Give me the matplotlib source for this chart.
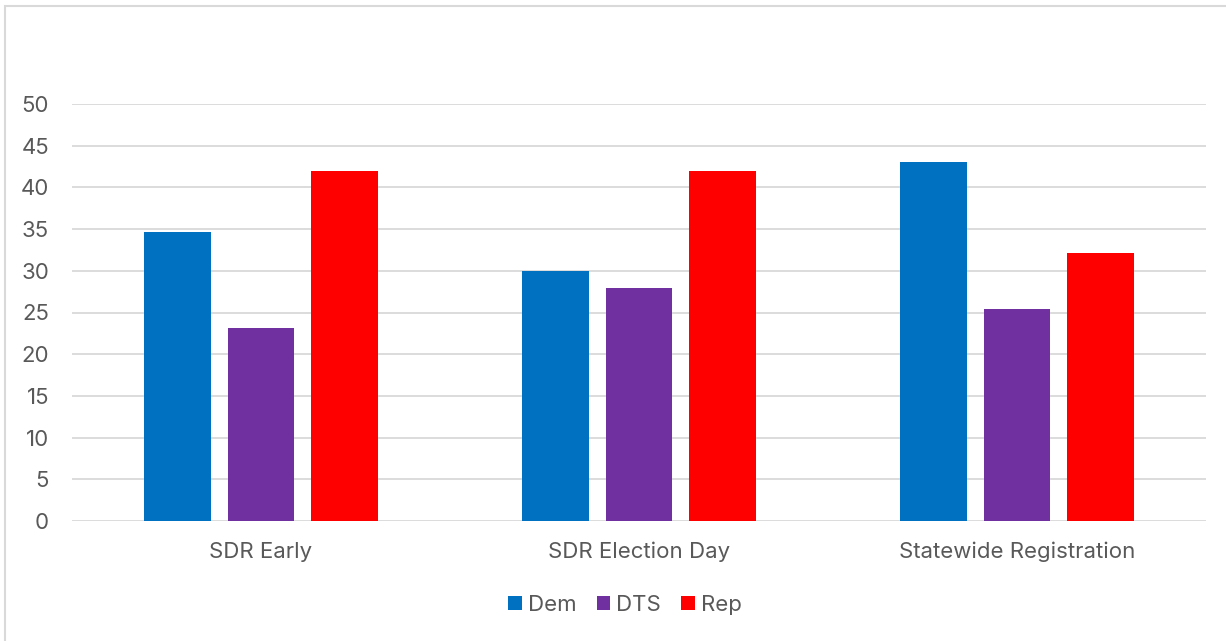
import matplotlib
matplotlib.use("Agg")
import matplotlib.pyplot as plt
from matplotlib.patches import Rectangle
import numpy as np

categories = ["SDR Early", "SDR Election Day", "Statewide Registration"]
series_names = ["Dem", "DTS", "Rep"]
dem = [34.7, 30.0, 43.0]
dts = [23.2, 27.9, 25.4]
rep = [42.0, 42.0, 32.1]
y_ticks = [0, 5, 10, 15, 20, 25, 30, 35, 40, 45, 50]

colors = ["#0070C0", "#7030A0", "#FF0000"]
text_color = "#595959"
fs = 16

plt.rcParams["font.family"] = ["Inter", "DejaVu Sans"]

fig = plt.figure(figsize=(12.26, 6.41), dpi=100)
fig.patch.set_facecolor("white")

# chart-area frame
fig.add_artist(Rectangle((5 / 1226, -0.01), 1.02, 1 - 6 / 641 + 0.01,
                         transform=fig.transFigure, fill=False,
                         edgecolor="#d9d9d9", linewidth=1.5))

ax = fig.add_axes([72 / 1226, 1 - 521 / 641, (1206 - 72) / 1226, (521 - 104) / 641])

x = np.arange(len(categories))
width = 0.175
step = 0.221
for i, (vals, name) in enumerate(zip([dem, dts, rep], series_names)):
    ax.bar(x + (i - 1) * step, vals, width=width, color=colors[i], label=name, zorder=3)

ax.set_xlim(-0.5, 2.5)
ax.set_ylim(0, 50)
ax.set_yticks(y_ticks)
ax.set_yticklabels([str(t) for t in y_ticks], fontsize=fs, color=text_color)
ax.set_xticks(x)
ax.set_xticklabels(categories, fontsize=fs, color=text_color)
ax.tick_params(axis="both", length=0)
ax.tick_params(axis="y", pad=16.5)
ax.tick_params(axis="x", pad=15)
ax.grid(axis="y", color="#d9d9d9", linewidth=1.3, zorder=0)
for s in ax.spines.values():
    s.set_visible(False)

fig.legend(loc="center", bbox_to_anchor=(625 / 1226, 1 - 605 / 641), ncol=3, frameon=False,
           fontsize=fs, labelcolor=text_color, handlelength=0.62, handleheight=0.62,
           handletextpad=0.28, columnspacing=0.9)

fig.savefig("out.png", dpi=100, facecolor="white")
